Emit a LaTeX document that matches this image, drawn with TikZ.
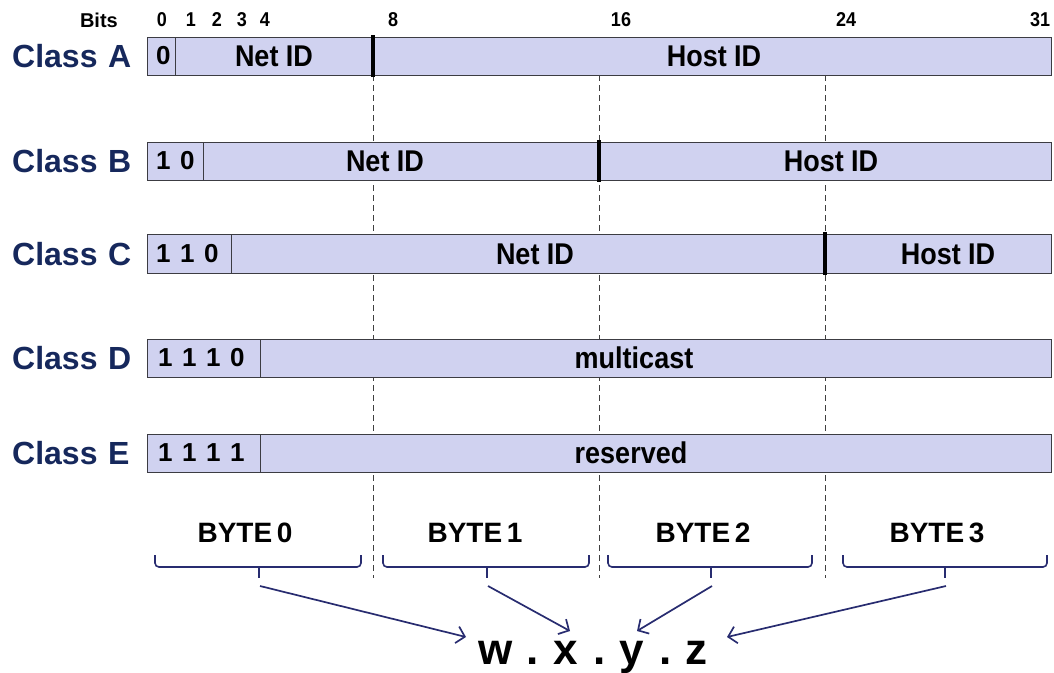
\documentclass[tikz,border=0pt]{standalone}
\usepackage{fontspec}
\setmainfont{Liberation Sans}
\usetikzlibrary{arrows.meta}

\definecolor{classblue}{RGB}{22,40,92}
\definecolor{fieldfill}{RGB}{208,210,240}
\definecolor{fieldedge}{RGB}{60,60,66}
\definecolor{bracecol}{RGB}{40,44,112}

% font helpers (sizes in pt; the picture uses 1pt units)
\newcommand\fs[1]{\fontsize{#1}{#1}\selectfont\bfseries}
\newcommand\gp{\hspace{9.5pt}}
\newcommand\narrow[1]{\scalebox{0.9}[1]{#1}}

\begin{document}
\begin{tikzpicture}[x=1pt,y=-1pt,
  classlbl/.style={anchor=west,inner sep=0pt,text=classblue,font=\fs{32}},
  bitnum/.style={inner sep=0pt,font=\fs{20}},
  fieldtxt/.style={inner sep=0pt,font=\fs{30}},
  classbits/.style={anchor=west,inner sep=0pt,font=\fs{26}},
  fieldbox/.style={draw=fieldedge,fill=fieldfill,line width=0.9pt},
  fieldsep/.style={draw=fieldedge,line width=0.9pt},
  netedge/.style={draw=black,line width=3.6pt},
  byteguide/.style={draw=black!75,line width=0.8pt,dash pattern=on 6pt off 4pt},
  bytelbl/.style={inner sep=0pt,font=\fs{28}},
  bytebrace/.style={draw=bracecol,line width=1.6pt,rounded corners=4pt},
  maparrow/.style={draw=bracecol,line width=1.7pt,-{Straight Barb[length=8pt,width=17pt]}},
]
\useasboundingbox (0,0) rectangle (1054,672);

% bit position -> x
\def\bx#1{147+28.25*#1}

% byte boundary guides (behind the fields)
\foreach \b/\n in {8/g8,16/g16,24/g24}{
  \coordinate (\n t) at ({\bx{\b}},75);
  \coordinate (\n b) at ({\bx{\b}},578);
  \draw[byteguide] (\n t) -- (\n b);
}

% bit numbers
\node[bitnum,anchor=east] (bitslbl) at (118,20) {Bits};
\foreach \v/\x in {0/162,1/191,2/217,3/242,4/265,8/393,16/621,24/846,31/1040}
  \node[bitnum] (bit\v) at (\x,20) {\narrow{\v}};

% ---- Class A ----
\node[classlbl] (lblA) at (12,56) {Class\,\,A};
\draw[fieldbox] ({\bx{0}},37) rectangle ({\bx{32}},75);
\draw[fieldsep] ({\bx{1}},37) -- ({\bx{1}},75);
\draw[netedge] ({\bx{8}},35) -- ({\bx{8}},77);
\node[classbits] (preA) at (156,56) {0};
\node[fieldtxt] (netA) at (274,56) {\narrow{Net ID}};
\node[fieldtxt] (hostA) at (714,56) {\narrow{Host ID}};

% ---- Class B ----
\node[classlbl] (lblB) at (12,161) {Class\,\,B};
\draw[fieldbox] ({\bx{0}},142) rectangle ({\bx{32}},180);
\draw[fieldsep] ({\bx{2}},142) -- ({\bx{2}},180);
\draw[netedge] ({\bx{16}},140) -- ({\bx{16}},182);
\node[classbits] (preB) at (156,161) {1\gp0};
\node[fieldtxt] (netB) at (385,161) {\narrow{Net ID}};
\node[fieldtxt] (hostB) at (831,161) {\narrow{Host ID}};

% ---- Class C ----
\node[classlbl] (lblC) at (12,254) {Class\,\,C};
\draw[fieldbox] ({\bx{0}},234) rectangle ({\bx{32}},273);
\draw[fieldsep] ({\bx{3}},234) -- ({\bx{3}},273);
\draw[netedge] ({\bx{24}},232) -- ({\bx{24}},275);
\node[classbits] (preC) at (156,254) {1\gp1\gp0};
\node[fieldtxt] (netC) at (535,254) {\narrow{Net ID}};
\node[fieldtxt] (hostC) at (948,254) {\narrow{Host ID}};

% ---- Class D ----
\node[classlbl] (lblD) at (12,358) {Class\,\,D};
\draw[fieldbox] ({\bx{0}},339) rectangle ({\bx{32}},377);
\draw[fieldsep] ({\bx{4}},339) -- ({\bx{4}},377);
\node[classbits] (preD) at (158,358) {1\gp1\gp1\gp0};
\node[fieldtxt] (multi) at (634,358) {\narrow{multicast}};

% ---- Class E ----
\node[classlbl] (lblE) at (12,453) {Class\,\,E};
\draw[fieldbox] ({\bx{0}},434) rectangle ({\bx{32}},472);
\draw[fieldsep] ({\bx{4}},434) -- ({\bx{4}},472);
\node[classbits] (preE) at (158,453) {1\gp1\gp1\gp1};
\node[fieldtxt] (resv) at (631,453) {\narrow{reserved}};

% ---- bytes and their braces ----
\foreach \k/\lx/\xa/\xb/\tip in {0/245/155/361/259, 1/475/383/589/487, 2/703/608/812/711, 3/937/843/1047/945}{
  \node[bytelbl] (byte\k) at (\lx,533) {BYTE\,\k};
  \draw[bytebrace] (\xa,555) -- (\xa,567) -- (\xb,567) -- (\xb,555);
  \draw[bytebrace] (\tip,567) -- (\tip,578);
  \coordinate (src\k) at (\tip+1,586);
}

% dotted-decimal form
\node[inner sep=0pt,anchor=base,font=\fs{44}] (addr) at (593,664) {w\,\,.\,\,x\,\,.\,\,y\,\,.\,\,z};
\coordinate (dst0) at (466,637);
\coordinate (dst1) at (570,631);
\coordinate (dst2) at (637,631);
\coordinate (dst3) at (727,637);

\foreach \k in {0,1,2,3}
  \draw[maparrow] (src\k) -- (dst\k);
\end{tikzpicture}
\end{document}
